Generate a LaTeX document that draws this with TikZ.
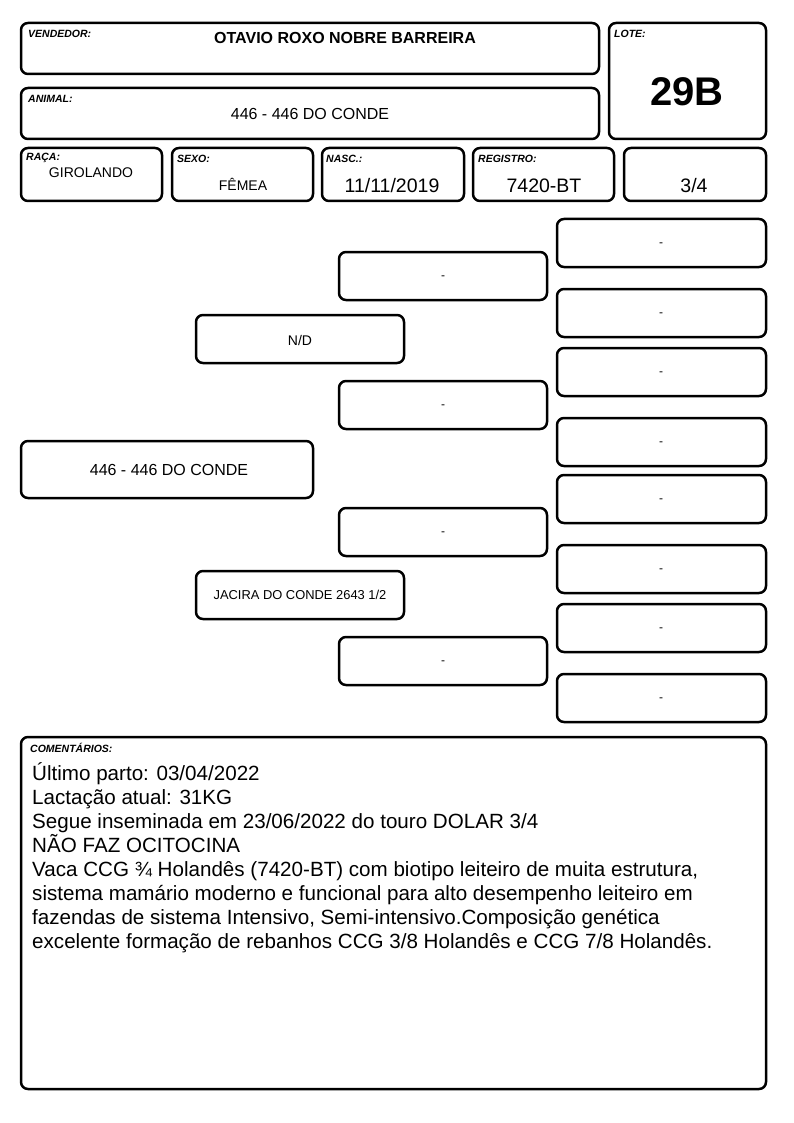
\documentclass[tikz,border=0pt]{standalone}
\usepackage{fontspec}
\setmainfont{Liberation Sans}
\begin{document}
\begin{tikzpicture}[x=1pt,y=-1pt,
  box/.style={draw=black,line width=2.5pt,rounded corners=7pt},
  lbl/.style={anchor=north west,inner sep=0pt,font=\fontsize{10.5}{11}\selectfont\bfseries\itshape},
  val/.style={inner sep=0pt,font=\fontsize{14}{16}\selectfont},
  mid/.style={inner sep=0pt,font=\fontsize{16}{18}\selectfont},
  big/.style={inner sep=0pt,font=\fontsize{19.5}{21}\selectfont},
  dashtxt/.style={inner sep=0pt,font=\fontsize{12}{14}\selectfont}]
\useasboundingbox (0,0) rectangle (794,1123);
\fill[white] (0,0) rectangle (794,1123);
% header
\draw[box] (21,23) rectangle (599,74);
\node[lbl] (lvend) at (28,30) {VENDEDOR:};
\node[inner sep=0pt,font=\fontsize{16}{18}\selectfont\bfseries] (vend) at (345,38) {OTAVIO ROXO NOBRE BARREIRA};
\draw[box] (609,23) rectangle (766,139);
\node[lbl] (llote) at (614,30) {LOTE:};
\node[inner sep=0pt,font=\fontsize{40}{42}\selectfont\bfseries] (lote) at (687,92) {29B};
\draw[box] (21,88) rectangle (599,139);
\node[lbl] (lanim) at (28,95) {ANIMAL:};
\node[mid] (anim) at (310,114) {446 - 446 DO CONDE};
% info row
\draw[box] (21,148) rectangle (162,201);
\node[lbl] (lraca) at (26,153) {RAÇA:};
\node[val] (raca) at (91,173) {GIROLANDO};
\draw[box] (172,148) rectangle (313,201);
\node[lbl] (lsexo) at (177,155) {SEXO:};
\node[val] (sexo) at (243,184) {FÊMEA};
\draw[box] (322,148) rectangle (464,201);
\node[lbl] (lnasc) at (326,155) {NASC.:};
\node[big] (nasc) at (392,186) {11/11/2019};
\draw[box] (473,148) rectangle (614,201);
\node[lbl] (lreg) at (478,155) {REGISTRO:};
\node[big] (reg) at (544,186) {7420-BT};
\draw[box] (624,148) rectangle (766,201);
\node[big] (frac) at (694,186) {3/4};
% pedigree right column
\foreach \t/\b [count=\i] in {219/267,289/337,348/396,418/466,475/523,545/593,604/652,674/722}{
  \draw[box] (557,\t) rectangle (766,\b);
  \node[dashtxt] (r\i) at (661,{(\t+\b)/2+2}) {-};
}
% middle column
\foreach \t/\b [count=\i] in {252/300,381/429,508/556,637/685}{
  \draw[box] (339,\t) rectangle (547,\b);
  \node[dashtxt] (m\i) at (443,{(\t+\b)/2+2}) {-};
}
% second column
\draw[box] (196,315) rectangle (404,363);
\node[val] (nd) at (300,340) {N/D};
\draw[box] (196,571) rectangle (404,619);
\node[inner sep=0pt,font=\fontsize{12.9}{14}\selectfont] (mae) at (300,595) {JACIRA DO CONDE 2643 1/2};
% first column
\draw[box] (21,441) rectangle (313,498);
\node[mid] (self) at (169,470) {446 - 446 DO CONDE};
% comments
\draw[box] (21,737) rectangle (766,1089);
\node[lbl] (lcom) at (30,743) {COMENTÁRIOS:};
\node[anchor=north west,inner sep=0pt,align=left,font=\fontsize{20.6}{24}\selectfont] (com) at (32,762) {Último parto: 03/04/2022\\
Lactação atual: 31KG\\
Segue inseminada em 23/06/2022 do touro DOLAR 3/4\\
NÃO FAZ OCITOCINA\\
Vaca CCG ¾ Holandês (7420-BT) com biotipo leiteiro de muita estrutura,\\
sistema mamário moderno e funcional para alto desempenho leiteiro em\\
fazendas de sistema Intensivo, Semi-intensivo.Composição genética\\
excelente formação de rebanhos CCG 3/8 Holandês e CCG 7/8 Holandês.};
\end{tikzpicture}
\end{document}
